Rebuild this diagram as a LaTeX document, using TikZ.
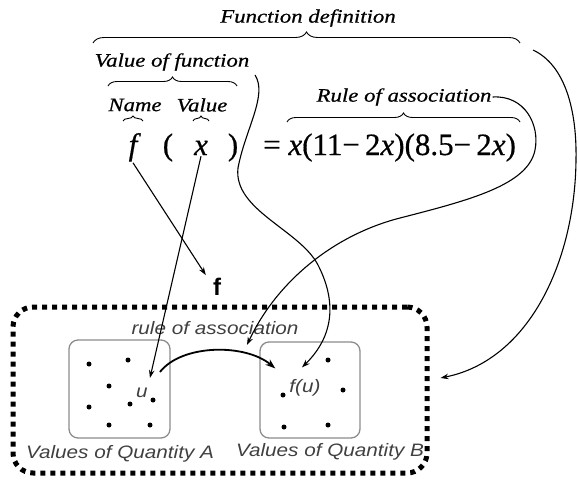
\documentclass[tikz,border=0pt]{standalone}
\usepackage{fontspec}
\setmainfont{Liberation Serif}
\setsansfont{Liberation Sans}
\newfontfamily\lblserif[FakeStretch=1.2,FakeBold=0.6]{Liberation Serif}
\newfontfamily\eqnserif[FakeBold=0.5]{Liberation Serif}
\newfontfamily\lblsans[FakeStretch=1.15]{Liberation Sans}
\usetikzlibrary{arrows.meta,decorations.pathreplacing}

\tikzset{
  lbl/.style={font=\lblserif\itshape\fontsize{19}{21}\selectfont, inner sep=1pt},
  eqn/.style={font=\eqnserif\fontsize{31}{34}\selectfont, inner sep=1pt},
  grp/.style={font=\lblsans\itshape\fontsize{18}{20}\selectfont, text=black!75, inner sep=1pt},
  setbox/.style={draw=black!45, line width=1.3pt, rounded corners=9pt},
  dotbox/.style={draw, line width=5pt, dash pattern=on 5pt off 5pt, rounded corners=20pt},
  conn/.style={-{Stealth[length=8pt,width=5.5pt]}, line width=1.1pt},
  assoc/.style={-{Stealth[length=10pt,width=7pt]}, line width=1.8pt},
  brc/.style={decorate, line width=0.9pt}
}

\begin{document}
\begin{tikzpicture}[x=1pt,y=-1pt]
\useasboundingbox (0,0) rectangle (578,479);

% the formula and its labels
\node[lbl] (fundef) at (308,18) {Function definition};
\draw[brc, decoration={brace,amplitude=11pt}] (93,43) -- (520,43);
\node[lbl] (valfun) at (172,62) {Value of function};
\draw[brc, decoration={brace,amplitude=9pt}] (108,86) -- (237,86);
\node[lbl] (name) at (135,105) {Name};
\node[lbl] (value) at (202,105) {Value};
\draw[brc, decoration={brace,amplitude=5pt}] (123,121) -- (143,121);
\draw[brc, decoration={brace,amplitude=5pt}] (193,121) -- (209,121);
\node[lbl] (rule) at (404,97) {Rule of association};
\draw[brc, decoration={brace,amplitude=9pt}] (287,122) -- (520,122);

\node[eqn, anchor=base] (fsym) at (133,155) {\itshape f};
\node[eqn, anchor=base] (lpar) at (168,155) {(};
\node[eqn, anchor=base] (xsym) at (201,155) {\itshape x};
\node[eqn, anchor=base] (rpar) at (233,155) {)};
\node[eqn, anchor=base west] (rhs) at (262,155)
  {= \textit{x}(11−\,2\textit{x})(8.5−\,2\textit{x})};

% the function as a box
\node[font=\sffamily\bfseries\fontsize{24}{26}\selectfont, inner sep=1pt] (boldf) at (217,287) {f};
\node[dotbox, minimum width=414pt, minimum height=166pt] (fbox) at (220,390) {};
\node[grp] (rulelbl) at (215,328) {rule of association};
\node[setbox, minimum width=101pt, minimum height=98pt] (setA) at (119.5,389) {};
\node[setbox, minimum width=100pt, minimum height=96pt] (setB) at (310,390) {};
\node[grp] (qa) at (120,454) {Values of Quantity A};
\node[grp] (qb) at (330,452) {Values of Quantity B};
\node[grp] (u) at (142,393) {u};
\node[grp] (fu) at (305,388) {f(u)};

\foreach \p in {(89,364),(128,360),(109,386),(89,407),(130,404),(153,400),(109,425),(150,425)}
  \fill \p circle (2.5pt);
\foreach \p in {(328,360),(283,395),(343,390),(284,427),(328,425)}
  \fill \p circle (2.5pt);

\draw[assoc] ([shift={(11pt,15pt)}]u.north east) .. controls +(22,-28) and +(-30,-25) .. ([shift={(-13pt,10pt)}]fu.north west);

% connectors
\coordinate (vfend) at (255,75);
\coordinate (fdend) at (533,50);
\coordinate (ruletip) at (247,345);
\coordinate (fboxtip) at ([xshift=11pt,yshift=12pt]fbox.east);

\draw[conn] (fsym.south) -- ([xshift=-6pt,yshift=2pt]boldf.north west);
\draw[conn] (xsym.south) -- ([xshift=1pt,yshift=9pt]u.north east);
\draw[conn] (vfend) .. controls (268,95) and (245,130) .. (238,168)
  .. controls (233,210) and (300,230) .. (318,265)
  .. controls (336,300) and (335,335) .. ([xshift=-3pt,yshift=11pt]fu.north);
\draw[conn] (rule.east) .. controls (525,95) and (540,125) .. (535,150)
  .. controls (528,185) and (470,200) .. (400,218)
  .. controls (330,236) and (275,285) .. (ruletip);
\draw[conn] (fdend) .. controls (565,65) and (577,110) .. (576,160)
  .. controls (575,260) and (530,360) .. (fboxtip);
\end{tikzpicture}
\end{document}
